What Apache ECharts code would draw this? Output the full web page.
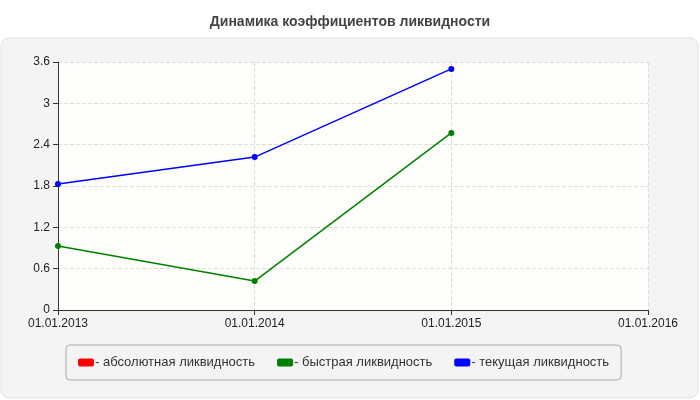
<!DOCTYPE html>
<html>
<head>
<meta charset="utf-8">
<script src="https://cdn.jsdelivr.net/npm/echarts@6/dist/echarts.min.js"></script>
<style>html,body{margin:0;padding:0;background:#fff}#chart{width:700px;height:400px}</style>
</head>
<body>
<div id="chart"></div>
<script>
// данные
const dates = ['01.01.2013', '01.01.2014', '01.01.2015', '01.01.2016']
const absLiq = [null, null, null, null]
const quickLiq = [0.93, 0.42, 2.57, null]
const currentLiq = [1.83, 2.22, 3.5, null]
const yTicks = [0, 0.6, 1.2, 1.8, 2.4, 3, 3.6]

const chart = echarts.init(document.getElementById('chart'))
const line = (name, data, color) => ({
    name: name,
    type: 'line',
    data: data,
    color: color,
    symbol: 'circle',
    symbolSize: 6,
    lineStyle: { width: 1.5, color: color },
    itemStyle: { color: color }
})
chart.setOption({
    animation: false,
    textStyle: { fontFamily: 'Arial, Liberation Sans, sans-serif' },
    title: {
        text: 'Динамика коэффициентов ликвидности',
        left: 'center', top: 10,
        textStyle: { fontSize: 14, fontWeight: 'bold', color: '#444' }
    },
    graphic: [{
        type: 'rect', z: -10,
        shape: { x: 1, y: 38, width: 697, height: 360, r: 8 },
        style: { fill: '#f4f4f4', stroke: '#e2e2e2' }
    }],
    grid: { left: 58, right: 52, top: 62, bottom: 90, show: true, backgroundColor: '#fdfdf9', borderWidth: 0 },
    legend: {
        left: 66, top: 345, width: 566, height: 38,
        padding: [11, 12], itemGap: 22,
        borderColor: '#aaa', borderWidth: 1, borderRadius: 4,
        backgroundColor: '#f4f4f4',
        icon: 'roundRect', itemWidth: 16, itemHeight: 8,
        formatter: '- {name}',
        textStyle: { fontSize: 13, color: '#333', padding: [0, 0, 0, -4] },
        data: ['абсолютная ликвидность', 'быстрая ликвидность', 'текущая ликвидность']
    },
    xAxis: {
        type: 'category', data: dates, boundaryGap: false,
        axisLine: { lineStyle: { color: '#333' } },
        axisTick: { lineStyle: { color: '#333' }, length: 5 },
        axisLabel: { color: '#222', fontSize: 12 },
        splitLine: { show: true, lineStyle: { type: 'dashed', color: '#ddd' } }
    },
    yAxis: {
        type: 'value', min: 0, max: yTicks[yTicks.length - 1], interval: 0.6,
        axisLine: { show: true, lineStyle: { color: '#333' } },
        axisTick: { show: true, lineStyle: { color: '#333' }, length: 5 },
        axisLabel: { color: '#222', fontSize: 12 },
        splitLine: { lineStyle: { type: 'dashed', color: '#ddd' } }
    },
    series: [
        line('абсолютная ликвидность', absLiq, '#ff0000'),
        line('быстрая ликвидность', quickLiq, '#008000'),
        line('текущая ликвидность', currentLiq, '#0000ff')
    ]
})
</script>
</body>
</html>
